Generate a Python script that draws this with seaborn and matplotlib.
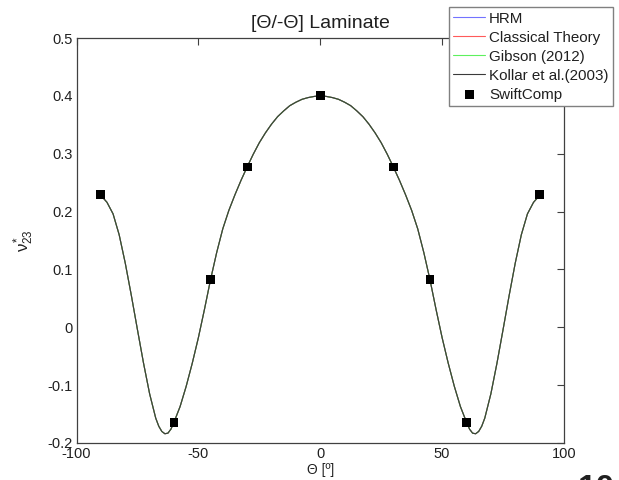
import matplotlib
matplotlib.use("Agg")
import matplotlib.pyplot as plt
import numpy as np
import pandas as pd
import seaborn as sns

# Ply angle (degrees) and effective Poisson's ratio nu23* from the analytical models
theta = [-90, -87.5, -85, -82.5, -80, -77.5, -75, -72.5, -70, -67.5, -66.25, -65, -63.75, -62.5,
         -61.25, -60, -57.5, -55, -52.5, -50, -47.5, -45, -42.5, -40, -37.5, -35, -32.5,
         -30, -27.5, -25, -22.5, -20, -17.5, -15, -12.5, -10, -7.5, -5, -2.5,
         0, 2.5, 5, 7.5, 10, 12.5, 15, 17.5, 20, 22.5, 25, 27.5,
         30, 32.5, 35, 37.5, 40, 42.5, 45, 47.5, 50, 52.5, 55, 57.5,
         60, 61.25, 62.5, 63.75, 65, 66.25, 67.5, 70, 72.5, 75, 77.5, 80, 82.5, 85, 87.5, 90]
nu23_model = [0.228, 0.216, 0.196, 0.160, 0.111, 0.055, -0.004, -0.062, -0.115, -0.157, -0.171, -0.180, -0.184, -0.183,
              -0.176, -0.164, -0.137, -0.102, -0.062, -0.018, 0.031, 0.0825, 0.129, 0.170, 0.202, 0.229, 0.254,
              0.277, 0.299, 0.319, 0.336, 0.351, 0.364, 0.374, 0.383, 0.389, 0.394, 0.397, 0.399,
              0.400, 0.399, 0.397, 0.394, 0.389, 0.383, 0.374, 0.364, 0.351, 0.336, 0.319, 0.299,
              0.277, 0.254, 0.229, 0.202, 0.170, 0.129, 0.0825, 0.031, -0.018, -0.062, -0.102, -0.137,
              -0.164, -0.176, -0.183, -0.184, -0.180, -0.171, -0.157, -0.115, -0.062, -0.004, 0.055, 0.111, 0.160, 0.196, 0.216, 0.228]

# SwiftComp finite-element results
theta_swift = [-90, -60, -45, -30, 0, 30, 45, 60, 90]
nu23_swift = [0.229, -0.164, 0.0825, 0.277, 0.400, 0.277, 0.0825, -0.164, 0.229]

models = ["HRM", "Classical Theory", "Gibson (2012)", "Kollar et al.(2003)"]
model_colors = ["#7373ff", "#ff5a5a", "#5ef05e", "#3a3a3a"]

x_ticks = [-100, -50, 0, 50, 100]
y_ticks = [-0.2, -0.1, 0, 0.1, 0.2, 0.3, 0.4, 0.5]

sns.set_theme(style="white")
plt.rcParams["font.family"] = ["Liberation Sans", "DejaVu Sans"]
plt.rcParams["mathtext.fontset"] = "custom"
plt.rcParams["mathtext.rm"] = "Liberation Sans"
plt.rcParams["mathtext.it"] = "Liberation Sans"
plt.rcParams["mathtext.bf"] = "Liberation Sans:bold"

fig = plt.figure(figsize=(6.19, 4.80), dpi=100)
ax = fig.add_axes([76.5 / 619, 1 - 443 / 480, (564 - 76.5) / 619, (443 - 38) / 480])

df = pd.DataFrame({"theta": theta, "nu23": nu23_model})
for name, col in zip(models, model_colors):
    sns.lineplot(data=df, x="theta", y="nu23", ax=ax, color=col, linewidth=0.8,
                 label=name, sort=False)

sw = pd.DataFrame({"theta": theta_swift, "nu23": nu23_swift})
sns.scatterplot(data=sw, x="theta", y="nu23", ax=ax, marker="s", s=40,
                color="black", edgecolor="none", label="SwiftComp", zorder=5)

ax.set_xlim(-100, 100)
ax.set_ylim(-0.2, 0.5)
ax.set_xticks(x_ticks)
ax.set_xticklabels([f"{v:g}" for v in x_ticks])
ax.set_yticks(y_ticks)
ax.set_yticklabels([f"{v:g}" for v in y_ticks])

ax.tick_params(direction="in", top=True, right=True, length=5, width=0.8,
               color="#404040", labelsize=10.5, labelcolor="#202020", pad=3)
for sp in ax.spines.values():
    sp.set_visible(True)
    sp.set_color("#404040")
    sp.set_linewidth(0.9)

ax.set_title("[Θ/-Θ] Laminate", fontsize=14, pad=7, color="#202020")
ax.set_xlabel("Θ [º]", fontsize=10, labelpad=1, color="#202020")
ax.set_ylabel(r"$\nu_{23}^{*}$", fontsize=12, labelpad=8, color="#202020")

handles, labels = ax.get_legend_handles_labels()
if ax.get_legend() is not None:
    ax.get_legend().remove()
leg = fig.legend(handles, labels, loc="upper right",
                 bbox_to_anchor=(613 / 619, 1 - 7 / 480),
                 fontsize=10.9, frameon=True, fancybox=False, framealpha=1,
                 edgecolor="#808080", borderpad=0.3, labelspacing=0.33,
                 handlelength=2.1, handletextpad=0.25, borderaxespad=0)
leg.get_frame().set_linewidth(1.0)
for t in leg.get_texts():
    t.set_color("#202020")

# page number in the corner
fig.text(578 / 619, 1 - 474 / 480, "10", fontsize=24, fontweight="bold",
         ha="left", va="top", color="#202020")

fig.savefig("out.png", dpi=100)
